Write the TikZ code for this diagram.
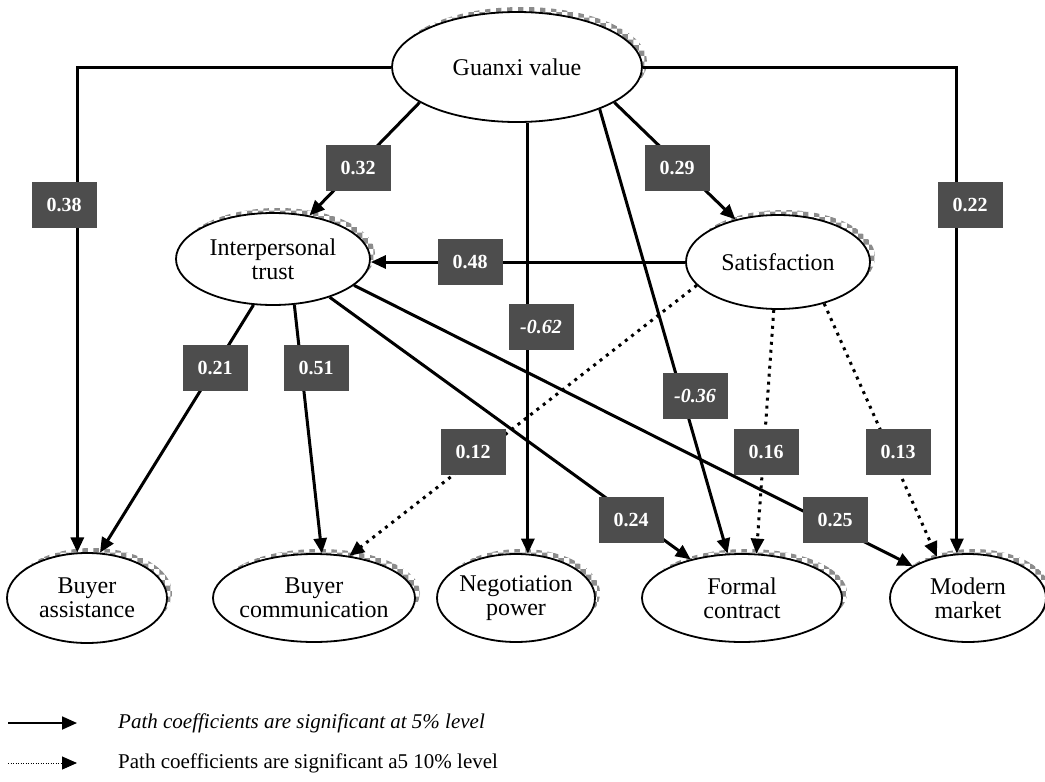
\documentclass[tikz,border=0pt]{standalone}
\usepackage{fontspec}
\setmainfont{Liberation Serif}
\usetikzlibrary{arrows.meta,shapes.geometric,shadows,patterns}
\definecolor{boxgray}{RGB}{77,77,77}
\newcommand\myelfont{\fontsize{24}{24}\selectfont}
\newcommand\mycoeffont{\fontsize{20}{20}\selectfont\bfseries}
\newcommand\mylegfont{\fontsize{21}{21}\selectfont}
\begin{document}
\begin{tikzpicture}[x=1pt,y=-1pt,
  latent/.style={ellipse, draw, line width=1.8pt, fill=white, inner sep=0pt,
    general shadow={pattern=checkerboard, pattern color=gray!90, shadow xshift=5pt, shadow yshift=5pt}},
  eltext/.style={align=center, font=\myelfont, inner sep=0pt},
  sig/.style={line width=3pt, -{Triangle[length=15pt,width=13pt]}},
  weak/.style={sig, dash pattern=on 3pt off 5pt},
  coef/.style={fill=boxgray, text=white, font=\mycoeffont, minimum width=65pt, minimum height=46pt, inner sep=0pt},
  legtext/.style={anchor=west, font=\mylegfont, inner sep=0pt}]
\useasboundingbox (0,0) rectangle (1045,782);

% latent variables
\node[latent, minimum width=250pt, minimum height=110pt] (gv) at (517,67) {};
\node[latent, minimum width=194pt, minimum height=92pt] (tr) at (273,259) {};
\node[latent, minimum width=184pt, minimum height=94pt] (sa) at (778,262) {};
\node[latent, minimum width=160pt, minimum height=90pt] (ba) at (87,598) {};
\node[latent, minimum width=202pt, minimum height=88pt] (bc) at (314,598) {};
\node[latent, minimum width=158pt, minimum height=88pt] (np) at (516,598) {};
\node[latent, minimum width=200pt, minimum height=88pt] (fc) at (742,598) {};
\node[latent, minimum width=156pt, minimum height=88pt] (mm) at (968,598) {};

\node[eltext] (gvt) at (gv) {Guanxi value};
\node[eltext] (trt) at (tr) {Interpersonal\\trust};
\node[eltext] (sat) at (sa) {Satisfaction};
\node[eltext] (bat) at (ba) {Buyer\\assistance};
\node[eltext] (bct) at (bc) {Buyer\\communication};
\node[eltext] (npt) at (np) {Negotiation\\power};
\node[eltext] (fct) at (fc) {Formal\\contract};
\node[eltext] (mmt) at (mm) {Modern\\market};

% paths
\draw[sig] (gv.west) -| (ba.102);
\draw[sig] (gv.east) -| (mm.104);
\draw[sig] (gv.200) -- (tr.50);
\draw[sig] (gv.340) -- (sa.135);
\draw[sig] (np.75 |- gv.south) -- (np.75);
\draw[sig] (gv.333) -- (fc.108);
\draw[sig] (sa.west) -- (sa.west -| tr.east);
\draw[sig] (tr.247) -- (ba.74);
\draw[sig] (tr.295) -- (bc.80);
\draw[sig] (tr.326) -- (fc.143);
\draw[sig] (tr.342) -- (mm.150);
\draw[weak] (sa.196) -- (bc.50);
\draw[weak] (sa.265) -- (fc.72);
\draw[weak] (sa.318) -- (mm.127);

% coefficients
\node[coef] (c38) at (64,205) {0.38};
\node[coef] (c22) at (970,205) {0.22};
\node[coef] (c32) at (358,168) {0.32};
\node[coef] (c29) at (677,168) {0.29};
\node[coef] (c48) at (470,262) {0.48};
\node[coef] (c62) at (541,327) {\itshape -0.62};
\node[coef] (c36) at (695,396) {\itshape -0.36};
\node[coef] (c21) at (215,368) {0.21};
\node[coef] (c51) at (316,368) {0.51};
\node[coef] (c12) at (473,452) {0.12};
\node[coef] (c16) at (766,452) {0.16};
\node[coef] (c13) at (898,452) {0.13};
\node[coef] (c24) at (631,520) {0.24};
\node[coef] (c25) at (835,520) {0.25};

% legend
\coordinate (l1a) at (8,723);
\coordinate (l1b) at (77,723);
\coordinate (l2a) at (8,763);
\coordinate (l2b) at (77,763);
\draw[line width=1.8pt, -{Triangle[length=15pt,width=13pt]}] (l1a) -- (l1b);
\draw[line width=1pt, dash pattern=on 1pt off 1.5pt, -{Triangle[length=15pt,width=13pt]}] (l2a) -- (l2b);
\node[legtext] (lt1) at (118,723) {\itshape Path coefficients are significant at 5\% level};
\node[legtext] (lt2) at (118,763) {Path coefficients are significant a5 10\% level};
\end{tikzpicture}
\end{document}
